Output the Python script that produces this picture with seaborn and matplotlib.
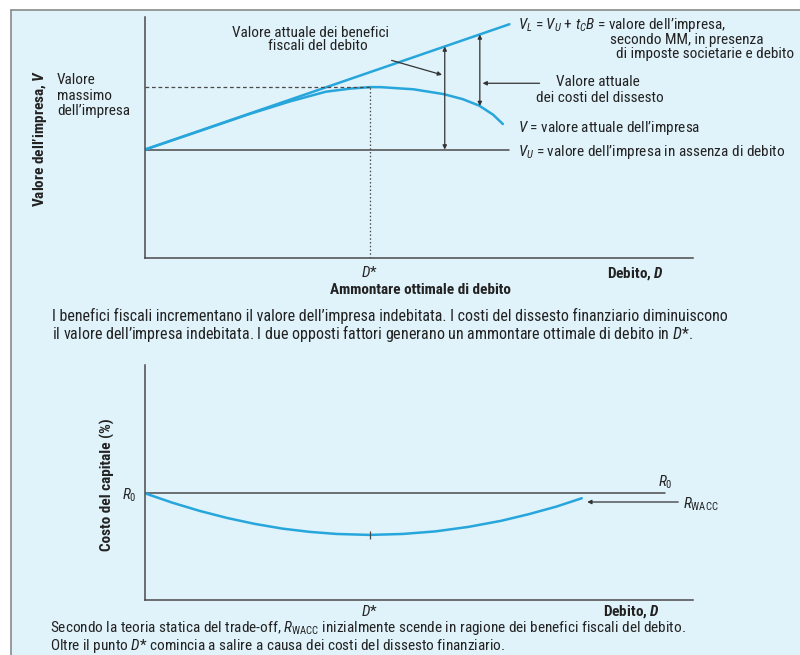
import numpy as np
import matplotlib
matplotlib.use("Agg")
import matplotlib.pyplot as plt
from matplotlib.patches import Rectangle
from matplotlib.lines import Line2D
import seaborn as sns

# --- data (debt D on 0..10, values on 0..10) ---
debt_vl = [0, 6.65]
value_vl = [4.5, 9.7]          # V_L = V_U + tc*B
debt_vu = [0, 6.65]
value_vu = [4.5, 4.5]          # V_U
debt_v = [0, 1, 1.9, 2.65, 3.3, 3.75, 4.1, 4.3, 4.9, 5.45, 5.8, 6.1, 6.35, 6.53]
value_v = [4.5, 5.27, 5.97, 6.5, 6.9, 7.03, 7.09, 7.09, 7.0, 6.8, 6.59, 6.32, 5.95, 5.56]
d_star = 4.1
d_tax_arrow = 5.47
d_cost_arrow = 6.11

debt_wacc = [0, 0.5, 1, 1.5, 2, 2.5, 3, 3.5, 4.1, 4.7, 5.3, 5.9, 6.5, 7.0, 7.5, 7.97]
r_wacc = [4.54, 4.14, 3.79, 3.49, 3.24, 3.04, 2.90, 2.81, 2.77, 2.81, 2.92, 3.11,
          3.37, 3.65, 3.97, 4.33]
debt_r0 = [0, 9.49]
r0 = 4.55

BLUE = "#27a6dc"
GREY = "#4a4a4a"
BG = "#e0f2fa"
W, H = 800, 655

sns.set_style("white")
cond = "Roboto Condensed"
plt.rcParams["font.family"] = [cond, "Roboto", "DejaVu Sans"]
plt.rcParams["mathtext.fontset"] = "custom"
plt.rcParams["mathtext.rm"] = cond
plt.rcParams["mathtext.it"] = cond + ":italic"
plt.rcParams["mathtext.bf"] = cond + ":bold:italic"
plt.rcParams["text.color"] = "#222222"

fig = plt.figure(figsize=(W / 100, H / 100), dpi=100, facecolor="white")


def px(x, y):
    return x / W, 1 - y / H


def box(x0, x1, y0, y1):
    return [x0 / W, 1 - y1 / H, (x1 - x0) / W, (y1 - y0) / H]


# light blue panel with a grey border on the left and top
fig.patches.append(Rectangle(px(11, H), 1, 1 - 10 / H, transform=fig.transFigure,
                             facecolor=BG, edgecolor="none", zorder=-10))
fig.lines.append(Line2D([11 / W, 11 / W], [0, 1 - 10 / H], transform=fig.transFigure,
                        color="#8a8a8a", lw=1.2))
fig.lines.append(Line2D([11 / W, 1], [1 - 10 / H, 1 - 10 / H], transform=fig.transFigure,
                        color="#8a8a8a", lw=1.2))

FS = 11
CS = 11.5

# ---------------- top panel ----------------
ax = fig.add_axes(box(145, 693, 17, 258))
ax.set_facecolor("none")
ax.set_xlim(0, 10)
ax.set_ylim(0, 10)
for s in ["top", "right"]:
    ax.spines[s].set_visible(False)
for s in ["left", "bottom"]:
    ax.spines[s].set_color(GREY)
    ax.spines[s].set_linewidth(1.1)

sns.lineplot(x=debt_vu, y=value_vu, ax=ax, color=GREY, lw=1.1)
sns.lineplot(x=debt_vl, y=value_vl, ax=ax, color=BLUE, lw=1.8)
sns.lineplot(x=debt_v, y=value_v, ax=ax, color=BLUE, lw=1.8, sort=False)

v_max = max(value_v)
ax.plot([0, d_star], [v_max, v_max], color=GREY, lw=0.9, dashes=(3, 2.2))
ax.plot([d_star, d_star], [0, v_max], color=GREY, lw=0.9, dashes=(1.2, 1.8))

ax.set_xticks([d_star])
ax.set_xticklabels(["$D$*"], fontsize=FS)
ax.set_yticks([])
ax.tick_params(axis="x", length=0, pad=5)

arrow2 = dict(arrowstyle="<|-|>", color="#333333", lw=0.9, mutation_scale=6,
              shrinkA=0, shrinkB=0)
arrow1 = dict(arrowstyle="-|>", color="#333333", lw=0.9, mutation_scale=6,
              shrinkA=0, shrinkB=0)
vl_tax = np.interp(d_tax_arrow, debt_vl, value_vl)
ax.annotate("", xy=(d_tax_arrow, vl_tax), xytext=(d_tax_arrow, value_vu[0]),
            arrowprops=arrow2)
vl_cost = np.interp(d_cost_arrow, debt_vl, value_vl)
v_cost = np.interp(d_cost_arrow, debt_v, value_v)
ax.annotate("", xy=(d_cost_arrow, vl_cost), xytext=(d_cost_arrow, v_cost),
            arrowprops=arrow2)
ax.annotate("", xy=(d_tax_arrow - 0.05, 7.6), xytext=(4.5, 8.2),
            arrowprops=arrow1, annotation_clip=False)
ax.annotate("", xy=(d_cost_arrow + 0.05, 7.25), xytext=(7.2, 7.25),
            arrowprops=arrow1, annotation_clip=False)

fig.text(*px(311, 33), "Valore attuale dei benefici", ha="center", va="center", fontsize=FS)
fig.text(*px(318, 46), "fiscali del debito", ha="center", va="center", fontsize=FS)
fig.text(*px(518, 25), "$V_L$ = $V_U$ + $t_C B$ = valore dell\u2019impresa,", va="center", fontsize=FS)
fig.text(*px(610, 40), "secondo MM, in presenza", va="center", fontsize=FS)
fig.text(*px(616, 54), "di imposte societarie e debito", va="center", fontsize=FS)
fig.text(*px(598, 82), "Valore attuale", ha="center", va="center", fontsize=FS)
fig.text(*px(600, 98), "dei costi del dissesto", ha="center", va="center", fontsize=FS)
fig.text(*px(518, 128), "$V$ = valore attuale dell\u2019impresa", va="center", fontsize=FS)
fig.text(*px(518, 152), "$V_U$ = valore dell\u2019impresa in assenza di debito", va="center", fontsize=FS)
for i, line in enumerate(["Valore", "massimo", "dell\u2019impresa"]):
    fig.text(*px(57, 80 + 15.5 * i), line, va="center", fontsize=FS)
fig.text(*px(40, 138), "Valore dell\u2019impresa, $\\mathbf{V}$", rotation=90, ha="center",
         va="center", fontsize=FS, fontweight="bold")
fig.text(*px(635, 274), "Debito, $\\mathbf{D}$", ha="center", va="center", fontsize=FS,
         fontweight="bold")
fig.text(*px(420, 290), "Ammontare ottimale di debito", ha="center", va="center",
         fontsize=FS, fontweight="bold")
fig.text(*px(52, 316), "I benefici fiscali incrementano il valore dell\u2019impresa indebitata. "
         "I costi del dissesto finanziario diminuiscono", va="center", fontsize=CS)
fig.text(*px(52, 333), "il valore dell\u2019impresa indebitata. I due opposti fattori generano "
         "un ammontare ottimale di debito in $D$*.", va="center", fontsize=CS)

# ---------------- bottom panel ----------------
bx = fig.add_axes(box(145, 693, 365, 600))
bx.set_facecolor("none")
bx.set_xlim(0, 10)
bx.set_ylim(0, 10)
for s in ["top", "right"]:
    bx.spines[s].set_visible(False)
for s in ["left", "bottom"]:
    bx.spines[s].set_color(GREY)
    bx.spines[s].set_linewidth(1.1)

sns.lineplot(x=debt_r0, y=[r0, r0], ax=bx, color=GREY, lw=1.1)
sns.lineplot(x=debt_wacc, y=r_wacc, ax=bx, color=BLUE, lw=1.8, sort=False)
bx.plot(d_star, min(r_wacc), marker="|", ms=6, mew=0.9, color=GREY)

bx.set_xticks([d_star])
bx.set_xticklabels(["$D$*"], fontsize=FS)
bx.tick_params(axis="x", direction="in", length=5, width=0.9, color=GREY, pad=3)
bx.set_yticks([r0])
bx.set_yticklabels(["$R_0$"], fontsize=FS)
bx.tick_params(axis="y", length=0, pad=6)

bx.annotate("", xy=(debt_wacc[-1] + 0.1, 4.17), xytext=(9.73, 4.17),
            arrowprops=arrow1, annotation_clip=False)

fig.text(*px(665, 482), "$R_0$", ha="center", va="center", fontsize=FS)
fig.text(*px(683, 504), "$R_{\\mathrm{WACC}}$", va="center", fontsize=FS)
fig.text(*px(107, 485), "Costo del capitale (%)", rotation=90, ha="center", va="center",
         fontsize=FS, fontweight="bold")
fig.text(*px(631, 612), "Debito, $\\mathbf{D}$", ha="center", va="center", fontsize=FS,
         fontweight="bold")
fig.text(*px(50, 637), "Secondo la teoria statica del trade-off, $R_{\\mathrm{WACC}}$ inizialmente "
         "scende in ragione dei benefici fiscali del debito.\n"
         "Oltre il punto $D$* comincia a salire a causa dei costi del dissesto finanziario.",
         va="center", fontsize=11, linespacing=0.95)

fig.savefig("out.png", dpi=100, facecolor="white")
